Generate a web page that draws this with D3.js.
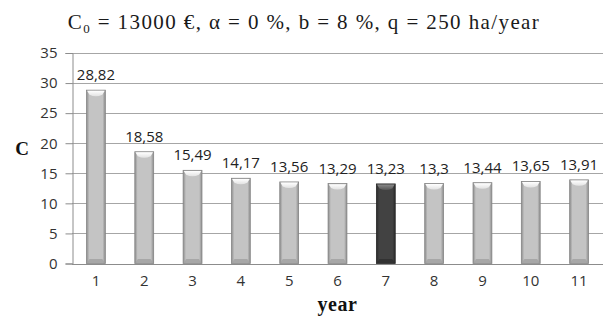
<!DOCTYPE html>
<html>
<head>
<meta charset="utf-8">
<script src="https://cdn.jsdelivr.net/npm/d3@7"></script>
<style>
  html, body { margin: 0; padding: 0; background: #fff; }
  svg { display: block; }
</style>
</head>
<body>
<svg id="chart" width="605" height="320"></svg>
<script>
// Cost per hectare by year of use
const years = [1, 2, 3, 4, 5, 6, 7, 8, 9, 10, 11];
const costs = [28.82, 18.58, 15.49, 14.17, 13.56, 13.29, 13.23, 13.3, 13.44, 13.65, 13.91];
const costLabels = ["28,82", "18,58", "15,49", "14,17", "13,56", "13,29", "13,23", "13,3", "13,44", "13,65", "13,91"];
const optimumYear = 7;
const yTicks = [0, 5, 10, 15, 20, 25, 30, 35];

const svg = d3.select("#chart");
const margin = { left: 72, right: 2, top: 53, bottom: 56.5 };
const W = 605, H = 320;

const x = d3.scaleBand()
  .domain(years)
  .range([margin.left, W - margin.right])
  .paddingInner(0.61)
  .paddingOuter(0.3);

const y = d3.scaleLinear()
  .domain([0, 35])
  .range([H - margin.bottom, margin.top]);

// Gradients for the bevelled bars
const defs = svg.append("defs");
function sideGradient(id, edge, mid) {
  const g = defs.append("linearGradient").attr("id", id)
    .attr("x1", "0").attr("x2", "1").attr("y1", "0").attr("y2", "0");
  g.append("stop").attr("offset", "0%").attr("stop-color", edge);
  g.append("stop").attr("offset", "15%").attr("stop-color", mid);
  g.append("stop").attr("offset", "85%").attr("stop-color", mid);
  g.append("stop").attr("offset", "100%").attr("stop-color", edge);
}
sideGradient("barLight", "#8c8c8c", "#c4c4c4");
sideGradient("barDark", "#2a2a2a", "#424242");
function capGradient(id, top, bottom) {
  const g = defs.append("linearGradient").attr("id", id)
    .attr("x1", "0").attr("x2", "0").attr("y1", "0").attr("y2", "1");
  g.append("stop").attr("offset", "0%").attr("stop-color", top);
  g.append("stop").attr("offset", "100%").attr("stop-color", bottom);
}
capGradient("capLight", "#ffffff", "#e2e2e2");
capGradient("capDark", "#8a8a8a", "#555555");

const tickFont = "'Open Sans', sans-serif";

// Gridlines
svg.append("g")
  .selectAll("line")
  .data(yTicks)
  .join("line")
  .attr("x1", margin.left)
  .attr("x2", W - margin.right)
  .attr("y1", d => Math.round(y(d)) + 0.5)
  .attr("y2", d => Math.round(y(d)) + 0.5)
  .attr("stroke", "#a6a6a6")
  .attr("stroke-width", 1);

// Y axis
const yAxis = svg.append("g")
  .attr("transform", `translate(${margin.left + 0.5},0)`)
  .call(d3.axisLeft(y).tickValues(yTicks).tickSize(7).tickPadding(8).tickFormat(d3.format("d")));
yAxis.select(".domain").attr("stroke", "#8c8c8c");
yAxis.selectAll(".tick line").attr("stroke", "#8c8c8c");
yAxis.selectAll(".tick text")
  .attr("font-family", tickFont)
  .attr("font-size", 15)
  .attr("fill", "#333");

// X axis labels
const xAxis = svg.append("g")
  .attr("transform", `translate(0,${H - margin.bottom})`)
  .call(d3.axisBottom(x).tickSize(0).tickPadding(12));
xAxis.select(".domain").remove();
xAxis.selectAll(".tick text")
  .attr("font-family", tickFont)
  .attr("font-size", 15)
  .attr("fill", "#333");

// Bars
const bars = svg.append("g")
  .selectAll("g")
  .data(years.map((yr, i) => ({ yr, v: costs[i], label: costLabels[i] })))
  .join("g");

bars.append("rect")
  .attr("x", d => x(d.yr))
  .attr("y", d => y(d.v))
  .attr("width", x.bandwidth())
  .attr("height", d => y(0) - y(d.v))
  .attr("fill", d => d.yr === optimumYear ? "url(#barDark)" : "url(#barLight)")
  .attr("stroke", d => d.yr === optimumYear ? "#262626" : "#858585")
  .attr("stroke-width", 0.8);

// Top bevel: chevron highlight
bars.append("path")
  .attr("d", d => {
    const x0 = x(d.yr), w = x.bandwidth(), t = y(d.v);
    const b = 3, h = 6.5;
    return `M${x0 + 0.6},${t + 0.6} L${x0 + w - 0.6},${t + 0.6} L${x0 + w - b},${t + h - 2} Q${x0 + w / 2},${t + h + 1} ${x0 + b},${t + h - 2} Z`;
  })
  .attr("fill", d => d.yr === optimumYear ? "url(#capDark)" : "url(#capLight)");

// Bottom bevel shading
bars.append("path")
  .attr("d", d => {
    const x0 = x(d.yr), w = x.bandwidth(), b0 = y(0);
    const b = 3, h = 4.5;
    return `M${x0 + b},${b0 - h} L${x0 + w - b},${b0 - h} L${x0 + w - 0.6},${b0 - 0.6} L${x0 + 0.6},${b0 - 0.6} Z`;
  })
  .attr("fill", d => d.yr === optimumYear ? "#2e2e2e" : "#a0a0a0")
  .attr("opacity", 0.8);

// Value labels
bars.append("text")
  .attr("x", d => x(d.yr) + x.bandwidth() / 2)
  .attr("y", d => y(d.v) - 10)
  .attr("text-anchor", "middle")
  .attr("font-family", tickFont)
  .attr("font-size", 15)
  .attr("fill", "#222")
  .text(d => d.label);

// Bottom axis line
svg.append("line")
  .attr("x1", margin.left)
  .attr("x2", W - margin.right)
  .attr("y1", Math.round(y(0)) + 0.5)
  .attr("y2", Math.round(y(0)) + 0.5)
  .attr("stroke", "#8c8c8c");

// Title
const title = svg.append("text")
  .attr("x", 304)
  .attr("y", 29)
  .attr("text-anchor", "middle")
  .attr("font-family", "'Liberation Serif', 'Times New Roman', serif")
  .attr("font-size", 21)
  .attr("letter-spacing", 1.4)
  .attr("fill", "#1a1a1a");
title.append("tspan").text("C");
title.append("tspan").attr("font-size", 13).attr("dy", 4).text("0");
title.append("tspan").attr("dy", -4).text(" = 13000 €, α = 0 %, b = 8 %, q = 250 ha/year");

// Axis titles
svg.append("text")
  .attr("x", 22)
  .attr("y", 155)
  .attr("text-anchor", "middle")
  .attr("font-family", "'Liberation Serif', 'Times New Roman', serif")
  .attr("font-weight", "bold")
  .attr("font-size", 19)
  .attr("fill", "#111")
  .text("C");

svg.append("text")
  .attr("x", (margin.left + W - margin.right) / 2)
  .attr("y", 311)
  .attr("text-anchor", "middle")
  .attr("font-family", "'Liberation Serif', 'Times New Roman', serif")
  .attr("font-weight", "bold")
  .attr("font-size", 20)
  .attr("letter-spacing", 0.5)
  .attr("fill", "#111")
  .text("year");
</script>
</body>
</html>
